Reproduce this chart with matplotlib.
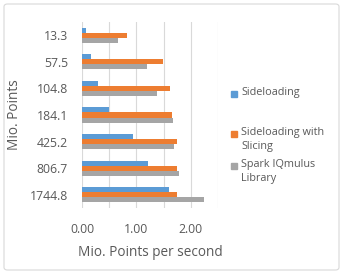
import matplotlib.pyplot as plt
from matplotlib.patches import FancyBboxPatch, Rectangle
import numpy as np

categories = ["13.3", "57.5", "104.8", "184.1", "425.2", "806.7", "1744.8"]
sideloading = [0.07, 0.16, 0.29, 0.49, 0.94, 1.22, 1.60]
slicing = [0.83, 1.48, 1.62, 1.66, 1.75, 1.75, 1.74]
iqmulus = [0.66, 1.19, 1.38, 1.67, 1.69, 1.79, 2.24]
series_names = ["Sideloading", "Sideloading with\nSlicing", "Spark IQmulus\nLibrary"]
colors = ["#5B9BD5", "#ED7D31", "#A5A5A5"]
text_col = "#595959"

plt.rcParams['font.family'] = ['Open Sans', 'DejaVu Sans']

W, H = 343, 275
fig = plt.figure(figsize=(W / 100, H / 100), dpi=100)
fig.patches.append(FancyBboxPatch((4 / W, 5 / H), 335 / W, 266 / H,
                                  boxstyle="round,pad=0,rounding_size=0.01",
                                  transform=fig.transFigure, fc="white",
                                  ec="#D9D9D9", lw=0.8, zorder=-5))

ax = fig.add_axes([82 / W, 1 - 208 / H, 136 / W, 186 / H])
ax.set_facecolor("none")
y = np.arange(len(categories))
h = 0.19
for i, vals in enumerate([sideloading, slicing, iqmulus]):
    ax.barh(y + (i - 1) * h, vals, height=h, color=colors[i], zorder=3)

ax.set_ylim(len(categories) - 0.5, -0.5)
ax.set_xlim(0, 2.5)
ax.set_xticks([0, 0.5, 1, 1.5, 2, 2.5])
ax.set_xticklabels(["0.00", "", "1.00", "", "2.00", ""])
ax.set_yticks(y)
ax.set_yticklabels(categories)
ax.grid(axis="x", color="#D9D9D9", lw=0.8, zorder=0)
for s in ax.spines.values():
    s.set_visible(False)
ax.tick_params(length=0, labelsize=8.8, colors=text_col, pad=10)
ax.tick_params(axis="x", pad=11)
ax.set_xlabel("Mio. Points per second", fontsize=9.8, color=text_col, labelpad=6)
ax.set_ylabel("Mio. Points", fontsize=9.8, color=text_col, labelpad=6)

# legend
leg_y = [94, 134, 166]
for c, name, ly in zip(colors, series_names, leg_y):
    fig.patches.append(Rectangle((231 / W, 1 - (ly + 3) / H), 6 / W, 6 / H,
                                 transform=fig.transFigure, color=c))
    fig.text(241 / W, 1 - (ly - 7) / H, name, fontsize=7.8, color=text_col,
             va="top", ha="left", linespacing=1.4)

fig.savefig("out.png", dpi=100)
